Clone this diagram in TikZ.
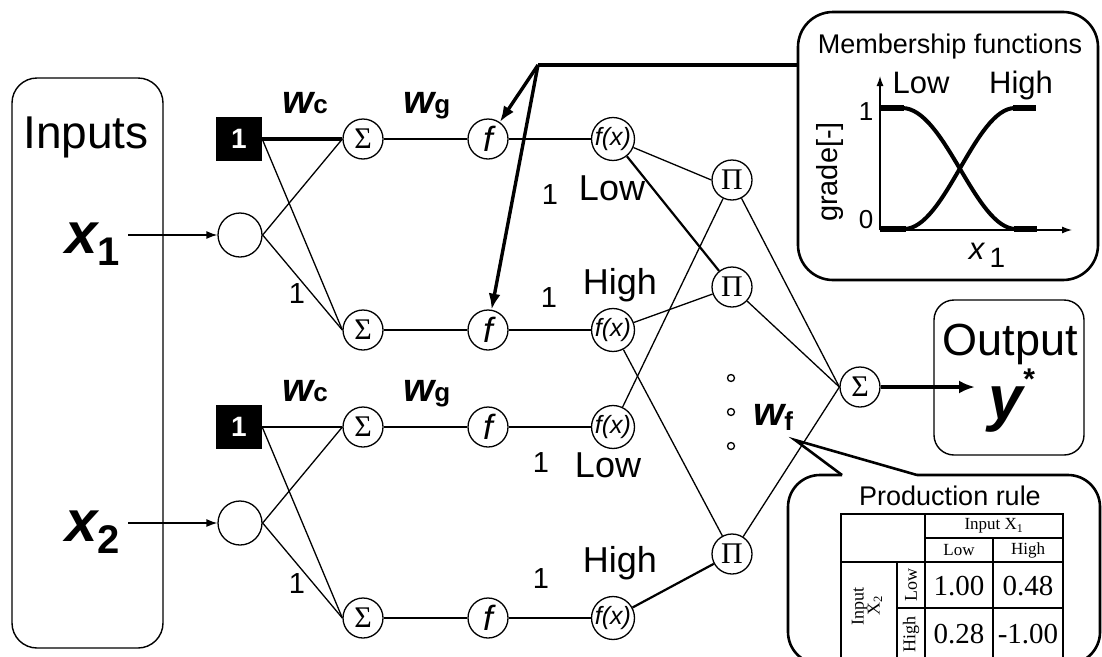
\documentclass[tikz,border=0pt]{standalone}
\usepackage{fontspec}
\setmainfont{Liberation Sans}
\newfontfamily\serf{Liberation Serif}
\usetikzlibrary{arrows.meta,positioning}
\newcommand\fsz[1]{\fontsize{#1}{#1}\selectfont}

\begin{document}
\begin{tikzpicture}[x=1pt,y=-1pt,
    unit/.style={draw,circle,line width=1.3pt,minimum size=40pt,inner sep=0pt},
    inunit/.style={unit,minimum size=44pt},
    biasbox/.style={fill=black,minimum width=46pt,minimum height=44pt,inner sep=0pt,text=white,font=\fsz{28}\bfseries},
    wire/.style={line width=1.3pt},
    midwire/.style={line width=2.2pt},
    heavywire/.style={line width=3.4pt},
    panel/.style={draw,line width=1.4pt,rounded corners=25pt,inner sep=0pt},
    lbl/.style={font=\fsz{36},anchor=base},
    one/.style={font=\fsz{29},anchor=base},
    wlbl/.style={anchor=base west,inner sep=0pt},
    tab/.style={font=\serf\fsz{17}}]
\useasboundingbox (0,0) rectangle (1102,656);

% input side
\node[panel,minimum width=151pt,minimum height=570pt] (inbox) at (87.5,363) {};
\node[anchor=base,font=\fsz{46}] (intitle) at (86,148) {Inputs};
\node[wlbl,anchor=base east] (x1) at (120,253) {\fsz{58}\bfseries\itshape x\raisebox{-12pt}{\fsz{40}\upshape 1}};
\node[wlbl,anchor=base east] (x2) at (120,541) {\fsz{58}\bfseries\itshape x\raisebox{-12pt}{\fsz{40}\upshape 2}};
\node[inunit] (in1) at (240,235) {};
\node[inunit] (in2) at (240,523) {};
\node[biasbox] (b1) at (239,139) {1};
\node[biasbox] (b2) at (239,427) {1};
\draw[wire,-{Latex[length=11pt,width=8pt]}] ([xshift=8pt]x1.east |- in1) -- (in1);
\draw[wire,-{Latex[length=11pt,width=8pt]}] ([xshift=8pt]x2.east |- in2) -- (in2);

% network columns
\foreach \n/\y in {1/139,2/330,3/427,4/618}{
    \node[unit,font=\serf\fsz{30}] (s\n) at (363,\y) {Σ};
    \node[unit,font=\fsz{35}\itshape] (f\n) at (488,\y) {f};
    \node[unit,font=\fsz{25}\itshape] (g\n) at (613,\y) {f(x)};
}
\node[unit,font=\serf\fsz{30}] (p1) at (732,180) {Π};
\node[unit,font=\serf\fsz{30}] (p2) at (732,287) {Π};
\node[unit,font=\serf\fsz{30}] (p3) at (732,554) {Π};
\node[unit,font=\serf\fsz{30}] (so) at (860,387) {Σ};

\draw[heavywire] (b1) -- (s1);
\draw[midwire] (b2) -- (s3);
\draw[wire] (b1.east) -- (s2.west);
\draw[wire] (b2.east) -- (s4.west);
\foreach \i/\a/\b in {1/1/2,2/3/4}{
    \draw[wire] (in\i.east) -- (s\a.west);
    \draw[wire] (in\i.east) -- (s\b.west);
}
\foreach \n in {1,2}{
    \draw[wire] (s\n) -- (f\n);
    \draw[wire] (f\n) -- (g\n);
}
\foreach \n in {3,4}{
    \draw[midwire] (s\n) -- (f\n);
    \draw[midwire] (f\n) -- (g\n);
}
\draw[wire] (g1) -- (p1.west);
\draw[midwire] (g1) -- (p2);
\draw[wire] (g2) -- (p2);
\draw[wire] (g2) -- (p3);
\draw[wire] (g3) -- (p1);
\draw[midwire] (g4) -- (p3);
\foreach \n in {1,2,3}
    \draw[wire] (p\n) -- (so.west);

% weights and labels
\node[wlbl] (wc1) at (282,113) {\fsz{40}\bfseries\itshape w\fsz{26}\upshape c};
\node[wlbl] (wg1) at (403,113) {\fsz{40}\bfseries\itshape w\fsz{26}\upshape g};
\node[wlbl] (wc2) at (282,401) {\fsz{40}\bfseries\itshape w\fsz{26}\upshape c};
\node[wlbl] (wg2) at (403,401) {\fsz{40}\bfseries\itshape w\fsz{26}\upshape g};
\node[wlbl] (wf) at (753,425) {\fsz{40}\bfseries\itshape w\raisebox{-5pt}{\fsz{26}\upshape f}};
\node[one] (one1) at (297,303) {1};
\node[one] (one2) at (297,593) {1};
\node[one] (one3) at (550,204) {1};
\node[one] (one4) at (549,307) {1};
\node[one] (one5) at (541,472) {1};
\node[one] (one6) at (541,588) {1};
\node[lbl] (low1) at (612,200) {Low};
\node[lbl] (high1) at (620,294) {High};
\node[lbl] (low2) at (608,477) {Low};
\node[lbl] (high2) at (620,572) {High};
\foreach \y in {378,412,446}
    \draw[line width=1.3pt] (731,\y) circle (3.5);

% output
\node[panel,rounded corners=20pt,minimum width=150pt,minimum height=155pt] (outbox) at (1009,377.5) {};
\node[anchor=base,font=\fsz{45}] (outtitle) at (1010,355) {Output};
\node[anchor=base] (ystar) at (1012,419) {\fsz{62}\bfseries\itshape y\raisebox{30pt}{\fsz{30}\upshape *}};
\coordinate (yin) at (975,387);
\draw[heavywire,-{Latex[length=16pt,width=13pt]}] (so) -- (yin);

% membership functions
\node[panel,line width=2.6pt,rounded corners=35pt,minimum width=300pt,minimum height=268pt] (mf) at (948,146) {};
\node[anchor=base,font=\fsz{27}] (mftitle) at (950,53) {Membership functions};
\coordinate (hub) at (538,65);
\draw[line width=3.6pt] (mf.west |- hub) -- (hub);
\draw[heavywire,-{Latex[length=16pt,width=12pt]}] (hub) -- (f1.55);
\draw[heavywire,-{Latex[length=16pt,width=12pt]}] (hub) -- (f2.80);
\coordinate (orig) at (880,230);
\draw[wire,-{Latex[length=10pt,width=7pt]}] (orig) -- (880,76);
\draw[wire,-{Latex[length=10pt,width=7pt]}] (orig) -- (1072,230);
\draw[line width=5.5pt] (880,108) -- (904,108) (1013,108) -- (1036,108);
\draw[line width=5.5pt] (880,229) -- (906,229) (1014,229) -- (1037,229);
\draw[line width=4pt] (902,108) .. controls (945,108) and (975,229) .. (1016,229);
\draw[line width=4pt] (904,229) .. controls (945,229) and (975,108) .. (1015,108);
\node[one,font=\fsz{26}] (mone) at (866,120) {1};
\node[one,font=\fsz{26}] (mzero) at (866,228) {0};
\node[rotate=90,font=\fsz{29}] (grade) at (830,172) {grade[-]};
\node[anchor=base,font=\fsz{31}] (mlow) at (921,93) {Low};
\node[anchor=base,font=\fsz{31}] (mhigh) at (1021,93) {High};
\node[anchor=base,font=\fsz{31}] (mx) at (987,259) {\itshape x\,\raisebox{-8pt}{\upshape\fsz{28}1}};

% production rule
\coordinate (tip) at (795,440);
\draw[line width=2.6pt,rounded corners=32pt] (917,475) -- (1100,475) -- (1100,664) -- (788,664) -- (788,475) -- (842,475);
\draw[line width=2.6pt,line join=miter] (842,475) -- (tip) -- (917,475);
\node[anchor=base,font=\fsz{27}] (prtitle) at (950,505) {Production rule};
\draw[line width=1.8pt] (841,514) rectangle (1063,664);
\draw[line width=1.6pt] (925,514) -- (925,664) (841,562) -- (1063,562) (925,538) -- (1063,538)
    (993,538) -- (993,664) (897,562) -- (897,664) (897,608) -- (1063,608);
\node[tab] (inx1) at (994,526) {Input X\textsubscript{1}};
\node[tab] (clow) at (959,550) {Low};
\node[tab] (chigh) at (1028,550) {High};
\node[tab,rotate=90,align=center,font=\serf\fsz{18}] (inx2) at (867,606) {Input\\[-2pt]X\textsubscript{2}};
\node[tab,rotate=90,font=\serf\fsz{18}] (rlow) at (911,585) {Low};
\node[tab,rotate=90,font=\serf\fsz{18}] (rhigh) at (911,634) {High};
\node[tab,font=\serf\fsz{29}] (v11) at (959,586) {1.00};
\node[tab,font=\serf\fsz{29}] (v12) at (1028,586) {0.48};
\node[tab,font=\serf\fsz{29}] (v21) at (959,634) {0.28};
\node[tab,font=\serf\fsz{29}] (v22) at (1028,634) {-1.00};
\end{tikzpicture}
\end{document}
